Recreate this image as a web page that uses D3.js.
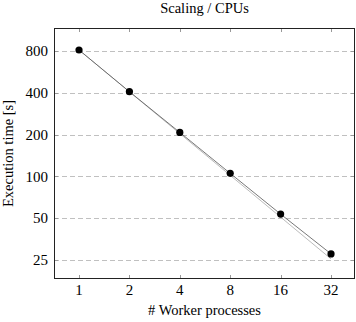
<!DOCTYPE html>
<html>
<head>
<meta charset="utf-8">
<script src="https://cdn.jsdelivr.net/npm/d3@7"></script>
<style>
  body { margin: 0; background: #fff; }
  text { font-family: "Liberation Serif", "DejaVu Serif", serif; fill: #000; }
</style>
</head>
<body>
<div id="chart"></div>
<script>
// data
var workers = [1, 2, 4, 8, 16, 32];
var execTime = [813, 407, 207, 105, 53.4, 27.6];
var idealTime = workers.map(function (w) { return execTime[0] / w; }); // ideal scaling from first point
var xTicks = [1, 2, 4, 8, 16, 32];
var yTicks = [25, 50, 100, 200, 400, 800];

var W = 356, H = 322;
var margin = {top: 28, right: 1, bottom: 43, left: 54},
    width = W - margin.left - margin.right,
    height = H - margin.top - margin.bottom;

var svg = d3.select("#chart")
    .append("svg")
    .attr("width", W)
    .attr("height", H);

var g = svg.append("g")
    .attr("transform", "translate(" + margin.left + "," + margin.top + ")");

var x = d3.scaleLog().base(2)
    .domain([0.709, 44.5])
    .range([0, width]);

var y = d3.scaleLog().base(2)
    .domain([18.2, 1171])
    .range([height, 0]);

// dashed grid lines
g.selectAll(".grid")
    .data(yTicks)
    .enter()
    .append("line")
    .attr("x1", 0)
    .attr("x2", width)
    .attr("y1", function (d) { return Math.round(y(d)) + 0.5; })
    .attr("y2", function (d) { return Math.round(y(d)) + 0.5; })
    .attr("stroke", "#c0c0c0")
    .attr("stroke-dasharray", "5,3");

// inner ticks: x at top & bottom, y at left & right
var tk = 4;
xTicks.forEach(function (d) {
    var px = Math.round(x(d)) + 0.5;
    g.append("line").attr("x1", px).attr("x2", px).attr("y1", height).attr("y2", height - tk)
        .attr("stroke", "#999");
    g.append("line").attr("x1", px).attr("x2", px).attr("y1", 0).attr("y2", tk)
        .attr("stroke", "#999");
});
yTicks.forEach(function (d) {
    var py = Math.round(y(d)) + 0.5;
    g.append("line").attr("x1", 0).attr("x2", tk).attr("y1", py).attr("y2", py)
        .attr("stroke", "#999");
    g.append("line").attr("x1", width - tk).attr("x2", width).attr("y1", py).attr("y2", py)
        .attr("stroke", "#999");
});

// frame
g.append("rect")
    .attr("x", 0.5).attr("y", 0.5)
    .attr("width", width - 1).attr("height", height - 1)
    .attr("fill", "none")
    .attr("stroke", "#222");

// tick labels
g.selectAll(".xlab")
    .data(xTicks)
    .enter()
    .append("text")
    .attr("x", function (d) { return x(d); })
    .attr("y", height + 16)
    .attr("text-anchor", "middle")
    .style("font-size", "15px")
    .text(function (d) { return d; });

g.selectAll(".ylab")
    .data(yTicks)
    .enter()
    .append("text")
    .attr("x", -6)
    .attr("y", function (d) { return y(d); })
    .attr("dy", "0.35em")
    .attr("text-anchor", "end")
    .style("font-size", "15px")
    .text(function (d) { return d; });

var line = d3.line()
    .x(function (d) { return x(d[0]); })
    .y(function (d) { return y(d[1]); });

// ideal scaling line
g.append("path")
    .datum(d3.zip(workers, idealTime))
    .attr("d", line)
    .attr("fill", "none")
    .attr("stroke", "#aaa")
    .attr("stroke-width", 0.8);

// measured line
g.append("path")
    .datum(d3.zip(workers, execTime))
    .attr("d", line)
    .attr("fill", "none")
    .attr("stroke", "#555")
    .attr("stroke-width", 0.8);

g.selectAll(".pt")
    .data(d3.zip(workers, execTime))
    .enter()
    .append("circle")
    .attr("cx", function (d) { return x(d[0]); })
    .attr("cy", function (d) { return y(d[1]); })
    .attr("r", 3.6)
    .attr("fill", "#000");

// titles
svg.append("text")
    .attr("x", margin.left + width / 2)
    .attr("y", 13)
    .attr("text-anchor", "middle")
    .style("font-size", "14.5px")
    .text("Scaling / CPUs");

svg.append("text")
    .attr("x", margin.left + width / 2)
    .attr("y", 315)
    .attr("text-anchor", "middle")
    .style("font-size", "14.5px")
    .text("# Worker processes");

svg.append("text")
    .attr("transform", "translate(13," + (margin.top + height / 2) + ") rotate(-90)")
    .attr("text-anchor", "middle")
    .style("font-size", "14.5px")
    .text("Execution time [s]");
</script>
</body>
</html>
